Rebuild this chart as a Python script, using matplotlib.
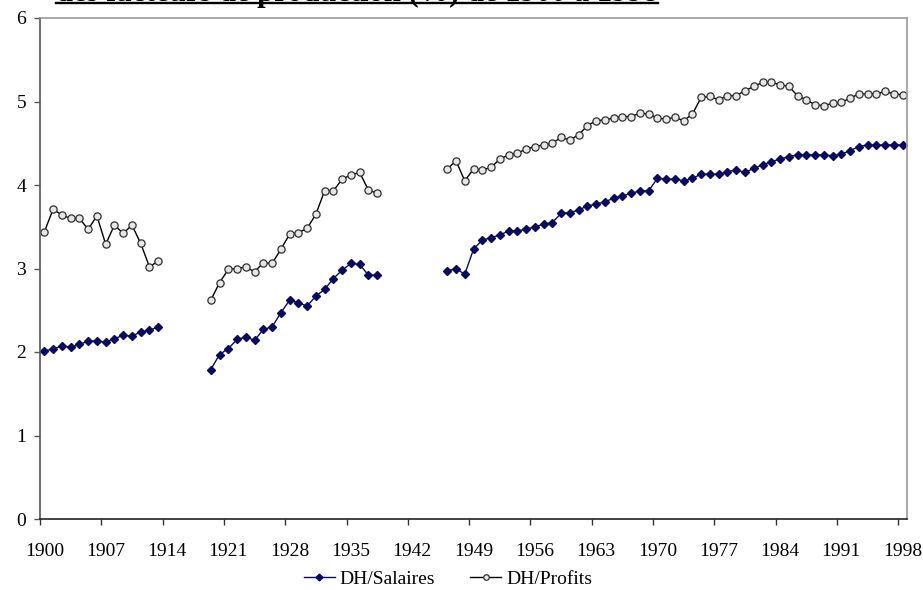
import numpy as np
import matplotlib.pyplot as plt
from matplotlib.lines import Line2D

# years with data; gaps during the two world wars
years_a = list(range(1900, 1914))
years_b = list(range(1919, 1939))
years_c = list(range(1946, 1999))

salaires_a = [2.01, 2.04, 2.07, 2.06, 2.09, 2.13, 2.13, 2.12, 2.16, 2.20, 2.19, 2.24, 2.26, 2.30]
salaires_b = [1.79, 1.97, 2.04, 2.15, 2.18, 2.14, 2.27, 2.30, 2.47, 2.62,
              2.59, 2.55, 2.67, 2.75, 2.88, 2.98, 3.06, 3.05, 2.92, 2.92]
salaires_c = [2.97, 3.00, 2.93, 3.23, 3.34, 3.37, 3.40, 3.45, 3.45, 3.47,
              3.50, 3.53, 3.55, 3.66, 3.67, 3.70, 3.75, 3.77, 3.80, 3.84,
              3.87, 3.90, 3.93, 3.93, 4.08,
              4.07, 4.07, 4.05, 4.08, 4.13, 4.13, 4.13, 4.16, 4.18, 4.15,
              4.20, 4.24, 4.28, 4.31, 4.34, 4.36, 4.36, 4.36, 4.36, 4.35,
              4.37, 4.41, 4.46, 4.48, 4.48, 4.48, 4.48, 4.48]

profits_a = [3.44, 3.71, 3.64, 3.60, 3.60, 3.47, 3.63, 3.29, 3.52, 3.42, 3.52, 3.30, 3.02, 3.09]
profits_b = [2.62, 2.83, 2.99, 3.00, 3.02, 2.96, 3.07, 3.06, 3.23, 3.41,
             3.43, 3.48, 3.65, 3.93, 3.93, 4.07, 4.12, 4.15, 3.94, 3.90]
profits_c = [4.19, 4.29, 4.05, 4.19, 4.18, 4.21, 4.31, 4.36, 4.38, 4.43,
             4.46, 4.48, 4.50, 4.57, 4.54, 4.60, 4.71, 4.77, 4.78, 4.80,
             4.82, 4.82, 4.86, 4.85, 4.80,
             4.79, 4.81, 4.77, 4.85, 5.05, 5.06, 5.02, 5.07, 5.07, 5.13,
             5.18, 5.23, 5.23, 5.20, 5.18, 5.07, 5.02, 4.96, 4.95, 4.98,
             4.99, 5.04, 5.09, 5.09, 5.09, 5.12, 5.09, 5.08]

tick_years = list(range(1900, 1999, 7))
title = "des facteurs de production (%) de 1900 à 1998"

plt.rcParams['font.family'] = ['Liberation Serif', 'DejaVu Serif']

fig = plt.figure(figsize=(9.23, 5.90), dpi=100)
ax = fig.add_axes([40 / 923, 71 / 590, 867 / 923, 501 / 590])

navy = '#0b0b5e'
sal_style = dict(color=navy, lw=1.0, marker='D', markersize=4.2, mfc=navy, mec=navy)
pro_style = dict(color='black', lw=1.0, marker='o', markersize=5.2, mfc='#e6e6e6',
                 mec='#303030', mew=0.9)

for yrs, vals in [(years_a, salaires_a), (years_b, salaires_b), (years_c, salaires_c)]:
    ax.plot(yrs, vals, **sal_style)
for yrs, vals in [(years_a, profits_a), (years_b, profits_b), (years_c, profits_c)]:
    ax.plot(yrs, vals, **pro_style)

# category axis: tick marks on category edges, labels on category centres
ax.set_xlim(1899.5, 1998.5)
ax.set_ylim(0, 6)
ax.set_xticks([y - 0.5 for y in tick_years])
ax.set_xticklabels([])
ax.set_xticks(tick_years, minor=True)
ax.set_xticklabels([str(y) for y in tick_years], minor=True, fontsize=14)
ax.tick_params(axis='x', which='minor', length=0, pad=17)
ax.tick_params(axis='x', which='major', length=4, width=1, color='#333333')
ax.set_yticks(range(0, 7))
ax.tick_params(axis='y', length=4, width=1, labelsize=14, color='#555555', pad=6)

for side in ['top', 'right']:
    ax.spines[side].set_color('#9a9a9a')
    ax.spines[side].set_linewidth(1.2)
ax.spines['left'].set_color('#555555')
ax.spines['left'].set_linewidth(1.2)
ax.spines['bottom'].set_color('#222222')
ax.spines['bottom'].set_linewidth(1.2)

handles = [Line2D([], [], **sal_style), Line2D([], [], **pro_style)]
handles[0].set_markersize(3.5)
handles[1].set_markersize(4)
fig.legend(handles, ['DH/Salaires', 'DH/Profits'], loc='center', ncol=2,
           bbox_to_anchor=(448 / 923, 1 - 579 / 590), frameon=False,
           fontsize=14, handlelength=1.6, handletextpad=0.25, columnspacing=1.8)

# title, cut off by the top edge of the image
t = fig.text(56 / 923, 1 - 1 / 590, title, fontsize=22, fontweight='bold',
             ha='left', va='baseline')
fig.canvas.draw()
bb = t.get_window_extent().transformed(fig.transFigure.inverted())
fig.add_artist(Line2D([bb.x0, bb.x1], [1 - 3 / 590] * 2, color='black', lw=1.7,
                      transform=fig.transFigure))

fig.savefig('out.png', dpi=100)
